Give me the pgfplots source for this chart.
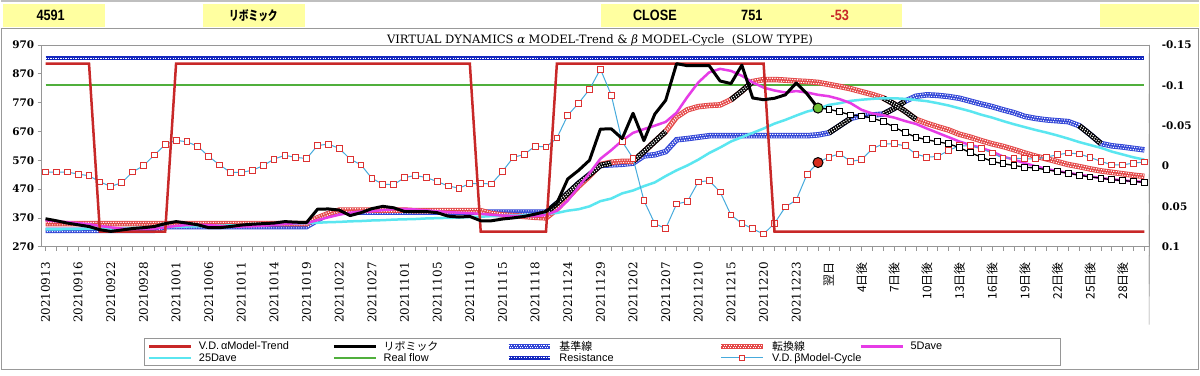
\documentclass[border=0pt]{standalone}
\usepackage{pgfplots}
\pgfplotsset{compat=1.18}
\usepackage{pgfplotstable}
\usepackage{fontspec}
\setmainfont{DejaVu Serif}
\newfontfamily\lsans{Liberation Sans}
\newfontfamily\hsans[FakeStretch=0.85]{Liberation Sans}
\newfontfamily\cjk{Noto Sans CJK JP}
\newfontfamily\cjkn[FakeStretch=0.75]{Noto Sans CJK JP}
\pgfdeclarelayer{background}
\pgfsetlayers{background,main}

\definecolor{trendred}{RGB}{200,40,40}
\definecolor{kijun}{RGB}{50,70,215}
\definecolor{tenkan}{RGB}{228,72,72}
\definecolor{dfive}{RGB}{230,60,230}
\definecolor{dtwf}{RGB}{90,230,240}
\definecolor{realflow}{RGB}{80,175,60}
\definecolor{resist}{RGB}{20,40,190}
\definecolor{cycline}{RGB}{70,170,220}
\definecolor{cycmark}{RGB}{220,50,50}
\definecolor{hdr}{RGB}{255,255,160}
\definecolor{framec}{RGB}{150,150,150}

\pgfplotstableread{
i trend price kijun tenkan dfive dtwf cyc
0 905 367 327 350 362 330 529
1 905 360 327 350 358 330 529
2 905 352 327 350 355 331 529
3 905 346 327 350 352 331 522
4 905 340 327 350 348 332 516
5 322 329 327 350 342 332 495
6 322 323 327 350 337 333 479
7 322 328 327 350 333 334 492
8 322 333 327 350 330 335 529
9 322 336 327 350 331 336 551
10 322 340 327 350 333 337 588
11 322 350 340 350 337 338 624
12 905 357 340 350 342 339 639
13 905 352 340 350 345 340 634
14 905 346 340 350 346 341 618
15 905 336 340 350 345 342 583
16 905 336 340 350 342 343 554
17 905 340 340 350 340 344 528
18 905 345 340 350 340 345 528
19 905 348 340 350 341 346 535
20 905 350 340 350 343 347 551
21 905 352 340 350 346 348 574
22 905 357 340 350 349 349 587
23 905 355 340 350 351 350 580
24 905 354 340 350 352 352 576
25 905 400 362 370 362 353 621
26 905 401 385 385 372 355 626
27 905 397 390 397 381 356 611
28 905 378 390 397 388 358 574
29 905 388 390 397 392 359 554
30 905 402 390 397 393 361 507
31 905 410 390 397 397 362 487
32 905 405 390 397 400 364 485
33 905 392 390 397 401 365 510
34 905 392 390 395 399 366 517
35 905 392 390 395 396 368 510
36 905 388 390 395 393 369 496
37 905 376 390 395 390 370 481
38 905 373 390 395 388 371 473
39 905 375 390 395 386 373 489
40 322 360 390 395 384 374 489
41 322 360 390 385 381 376 488
42 322 366 390 380 378 377 531
43 322 370 390 378 377 379 580
44 322 375 390 375 376 380 590
45 322 383 390 372 376 382 619
46 322 392 390 370 380 384 616
47 905 421 420 400 395 387 647
48 905 505 455 440 430 395 726
49 905 535 490 480 478 400 768
50 905 570 520 515 525 410 816
51 905 678 552 555 575 428 886
52 905 679 554 563 605 437 796
53 905 645 556 566 638 455 635
54 905 733 560 566 665 465 577
55 905 638 585 600 678 480 430
56 905 730 589 635 690 493 350
57 905 778 600 670 703 515 333
58 905 905 641 720 735 535 418
59 905 898 645 745 790 552 427
60 905 898 650 756 840 572 495
61 905 898 655 760 875 595 499
62 905 845 655 762 887 614 460
63 905 836 655 780 880 635 380
64 905 900 655 810 863 650 351
65 905 786 655 843 840 665 332
66 905 780 655 850 822 680 314
67 322 785 655 850 812 697 351
68 322 797 655 848 805 710 408
69 322 838 655 845 810 725 432
70 322 800 655 843 805 739 522
71 322 751 658 840 797 748 562
72 322 nan 665 833 792 762 581
73 322 nan 690 826 782 768 592
74 322 nan 715 818 768 776 566
75 322 nan 725 808 745 780 572
76 322 nan 727 798 732 783 610
77 322 nan 730 786 726 785 627
78 322 nan 750 765 718 785 627
79 322 nan 775 740 706 783 620
80 322 nan 792 712 696 779 591
81 322 nan 797 698 680 775 581
82 322 nan 795 686 665 768 583
83 322 nan 791 675 650 760 604
84 322 nan 785 660 635 750 620
85 322 nan 775 650 623 740 620
86 322 nan 765 638 613 728 610
87 322 nan 756 627 600 718 595
88 322 nan 745 618 583 706 577
89 322 nan 735 607 572 695 577
90 322 nan 722 595 560 685 575
91 322 nan 715 584 549 675 575
92 322 nan 710 575 540 666 581
93 322 nan 707 565 532 656 589
94 322 nan 704 555 526 645 595
95 322 nan 690 548 520 633 592
96 322 nan 660 540 514 623 580
97 322 nan 628 533 508 613 566
98 322 nan 620 528 504 600 554
99 322 nan 616 523 500 590 554
100 322 nan 611 518 497 580 560
101 322 nan 606 514 495 572 564
}\data

\pgfplotstableread{
i fc
71 751
72 747
73 738
74 727
75 724
76 716
77 704
78 685
79 666
80 650
81 641
82 634
83 627
84 614
85 596
86 581
87 566
88 558
89 552
90 546
91 543
92 537
93 531
94 525
95 518
96 512
97 508
98 502
99 500
100 496
101 494
}\fcast

\tikzset{
  dotrow/.style={white, line width=1.1bp, dash pattern=on 1.1bp off 1.4bp},
  rlab/.style={anchor=west, font=\bfseries\fontsize{10.5}{10.5}\selectfont, xshift=9bp},
}
\newcommand{\lgt}[2]{\makebox[#1bp][l]{\hspace{5bp}#2}}

\begin{document}
\begin{tikzpicture}[x=1bp,y=1bp]
\begin{axis}[
  scale only axis, width=1109bp, height=202bp,
  xmin=-0.35, xmax=101.45, ymin=270, ymax=970,
  clip mode=individual,
  axis line style={draw=framec, line width=0.8bp},
  xtick={0,3,...,99},
  xticklabels={20210913,20210916,20210922,20210928,20211001,20211006,20211011,20211014,20211019,20211022,20211027,20211101,20211105,20211110,20211115,20211118,20211124,20211129,20211202,20211207,20211210,20211215,20211220,20211223,{\cjk 翌日},{\cjk 4日後},{\cjk 7日後},{\cjk 10日後},{\cjk 13日後},{\cjk 16日後},{\cjk 19日後},{\cjk 22日後},{\cjk 25日後},{\cjk 28日後}},
  minor xtick={0,...,101},
  xtick pos=left, ytick pos=left, tick align=outside,
  major tick length=4bp, minor tick length=4bp,
  tick style={draw=framec, line width=0.6bp},
  ytick={270,370,...,970},
  yticklabel style={font=\bfseries\fontsize{10.5}{10.5}\selectfont},
  /pgf/number format/assume math mode=true,
  /pgf/number format/1000 sep={},
  xticklabel style={rotate=90, anchor=east, font=\fontsize{12}{12}\selectfont},
  xticklabel shift=8bp,
  legend columns=5,
  legend cell align=left,
  legend style={at={(0.092,-0.4505)}, anchor=north west, draw=framec, line width=0.8bp, fill=white,
    font=\lsans\fontsize{11}{11}\selectfont, inner xsep=4bp, inner ysep=1.5bp, row sep=-1.5bp,
    /tikz/column sep=0bp, nodes={inner sep=1.5bp}},
]
% legend images
\addlegendimage{legend image code/.code={\draw[trendred,line width=2.5bp] (0bp,0bp) -- (42bp,0bp);}}
\addlegendentry{\lgt{137}{V.D.\,αModel-Trend}}
\addlegendimage{legend image code/.code={\draw[black,line width=3bp] (0bp,0bp) -- (42bp,0bp);}}
\addlegendentry{\lgt{126}{\cjk リボミック}}
\addlegendimage{legend image code/.code={\draw[kijun,line width=5bp] (0bp,0bp) -- (42bp,0bp);
  \draw[dotrow] (0bp,1.2bp) -- (42bp,1.2bp); \draw[dotrow,dash phase=1.2bp] (0bp,-1.2bp) -- (42bp,-1.2bp);}}
\addlegendentry{\lgt{163}{\cjk 基準線}}
\addlegendimage{legend image code/.code={\draw[tenkan,line width=5bp] (0bp,0bp) -- (42bp,0bp);
  \draw[dotrow] (0bp,1.2bp) -- (42bp,1.2bp); \draw[dotrow,dash phase=1.2bp] (0bp,-1.2bp) -- (42bp,-1.2bp);}}
\addlegendentry{\lgt{91}{\cjk 転換線}}
\addlegendimage{legend image code/.code={\draw[dfive,line width=2.5bp] (0bp,0bp) -- (42bp,0bp);}}
\addlegendentry{\lgt{150}{5Dave}}
\addlegendimage{legend image code/.code={\draw[dtwf,line width=2.5bp] (0bp,0bp) -- (42bp,0bp);}}
\addlegendentry{\lgt{137}{25Dave}}
\addlegendimage{legend image code/.code={\draw[realflow,line width=2.2bp] (0bp,0bp) -- (42bp,0bp);}}
\addlegendentry{\lgt{126}{Real flow}}
\addlegendimage{legend image code/.code={\draw[resist,line width=4.5bp] (0bp,0bp) -- (42bp,0bp);
  \draw[dotrow] (0bp,0bp) -- (42bp,0bp);}}
\addlegendentry{\lgt{163}{Resistance}}
\addlegendimage{legend image code/.code={\draw[cycline,line width=1bp] (0bp,0bp) -- (42bp,0bp);
  \draw[cycmark,fill=white,line width=0.9bp] (18bp,-2.8bp) rectangle (23.6bp,2.8bp);}}
\addlegendentry{\lgt{91}{V.D.\,βModel-Cycle}}

% resistance and real flow
\addplot[forget plot, resist, line width=4.5bp] coordinates {(0,924) (101,924)};
\addplot[forget plot, dotrow] coordinates {(0,924) (101,924)};
\addplot[forget plot, realflow, line width=2.2bp] coordinates {(0,830) (101,830)};
% kijun (pattern)
\addplot[forget plot, kijun, line width=5.5bp] table[x=i,y=kijun]{\data};
\addplot[forget plot, dotrow, yshift=1.3bp] table[x=i,y=kijun]{\data};
\addplot[forget plot, dotrow, dash phase=1.2bp, yshift=-1.3bp] table[x=i,y=kijun]{\data};
% tenkan (pattern)
\addplot[forget plot, tenkan, line width=5.5bp] table[x=i,y=tenkan]{\data};
\addplot[forget plot, dotrow, yshift=1.3bp] table[x=i,y=tenkan]{\data};
\addplot[forget plot, dotrow, dash phase=1.2bp, yshift=-1.3bp] table[x=i,y=tenkan]{\data};
% black checkered segments
\foreach \seg in {{(46,388) (47,420) (48,455) (49,490) (50,520) (51,552) (52,560)},
                  {(54,566) (55,600) (56,635) (57,670)},
                  {(63,780) (64,810) (65,843)},
                  {(72,665) (73,690) (74,715)},
                  {(77,730) (78,750) (79,775)},
                  {(77,786) (78,765) (79,740) (80,712)},
                  {(95,690) (96,660) (97,628)}}{
  \addplot[forget plot, black, line width=5.5bp] coordinates \seg;
  \addplot[forget plot, dotrow, yshift=1.3bp] coordinates \seg;
  \addplot[forget plot, dotrow, dash phase=1.2bp, yshift=-1.3bp] coordinates \seg;
}
% 25 day and 5 day averages
\addplot[forget plot, dtwf, line width=2.5bp] table[x=i,y=dtwf]{\data};
\addplot[forget plot, dfive, line width=2.5bp] table[x=i,y=dfive]{\data};
% cycle
\addplot[forget plot, cycline, line width=1bp, mark=square*, mark size=2.9bp,
  mark options={draw=cycmark, fill=white, line width=0.9bp}] table[x=i,y=cyc]{\data};
% trend
\addplot[forget plot, trendred, line width=2.5bp] table[x=i,y=trend]{\data};
% price
\addplot[forget plot, black, line width=3bp, line join=round] table[x=i,y=price]{\data};
% forecast
\addplot[forget plot, black, line width=1.3bp, mark=square*, mark size=2.9bp,
  mark options={draw=black, fill=white, line width=0.9bp}] table[x=i,y=fc]{\fcast};
% latest points
\addplot[forget plot, only marks, mark=*, mark size=5bp,
  mark options={draw=black, fill={rgb,255:red,110;green,190;blue,50}, line width=1bp}] coordinates {(71,751)};
\addplot[forget plot, only marks, mark=*, mark size=5bp,
  mark options={draw=black, fill={rgb,255:red,215;green,45;blue,30}, line width=1bp}] coordinates {(71,562)};

% right-hand scale (-0.15 at top, 0.1 at bottom)
\coordinate (PA) at (rel axis cs:0,0);
\draw[framec, line width=0.6bp] (rel axis cs:1,1) -- ++(-4bp,0);
\draw[framec, line width=0.6bp] (rel axis cs:1,0.8) -- ++(-4bp,0);
\draw[framec, line width=0.6bp] (rel axis cs:1,0.6) -- ++(-4bp,0);
\draw[framec, line width=0.6bp] (rel axis cs:1,0.4) -- ++(-4bp,0);
\draw[framec, line width=0.6bp] (rel axis cs:1,0.2) -- ++(-4bp,0);
\draw[framec, line width=0.6bp] (rel axis cs:1,0) -- ++(-4bp,0);
\node[rlab] at (rel axis cs:1,1) {-0.15};
\node[rlab] at (rel axis cs:1,0.8) {-0.1};
\node[rlab] at (rel axis cs:1,0.6) {-0.05};
\node[rlab] at (rel axis cs:1,0.4) {0};
\node[rlab] at (rel axis cs:1,0.2) {0.05};
\node[rlab] at (rel axis cs:1,0) {0.1};
\end{axis}

\begin{pgfonlayer}{background}
\begin{scope}[shift={(PA)}, shift={(-41,-129)}]
\fill[white] (0,0) rectangle (1200,376);
\fill[black!25] (0,374) rectangle (1200,376);
\fill[hdr] (2,349) rectangle (104,372);
\fill[hdr] (203,349) rectangle (305,372);
\fill[hdr] (601,349) rectangle (902,372);
\fill[hdr] (1101,349) rectangle (1200,372);
\draw[black!35,line width=1.5bp] (0,347.5) -- (1200,347.5);
\draw[black!40,line width=1.5bp] (1,6) rectangle (1199,347.5);
\node[font=\hsans\bfseries\fontsize{15}{15}\selectfont] at (50,360.5) {4591};
\node[font=\cjkn\bfseries\fontsize{13}{13}\selectfont] at (253,360.5) {リボミック};
\node[font=\hsans\bfseries\fontsize{15}{15}\selectfont] at (655,360.5) {CLOSE};
\node[font=\hsans\bfseries\fontsize{15}{15}\selectfont] at (752,360.5) {751};
\node[font=\hsans\bfseries\fontsize{15}{15}\selectfont, text=trendred] at (840,360.5) {-53};
\node[font=\fontsize{11.6}{11.6}\selectfont] at (600,336) {VIRTUAL DYNAMICS \textit{α} MODEL-Trend \& \textit{β} MODEL-Cycle\ \ (SLOW TYPE)};
\path[use as bounding box] (0,0) rectangle (1200,376);
\end{scope}
\end{pgfonlayer}
\end{tikzpicture}
\end{document}
